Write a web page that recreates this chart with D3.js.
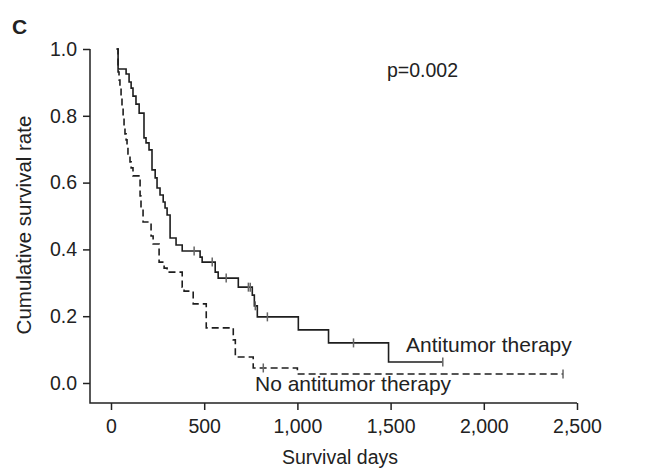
<!DOCTYPE html>
<html>
  <head>
    <script src="https://d3js.org/d3.v7.min.js"></script>
    <style>
      body { margin: 0; background: #fff; }
      text { font-family: "Liberation Sans", Arial, sans-serif; fill: #222; }
    </style>
  </head>
  <body>
    <div id='container'></div>

    <script type="text/javascript">
      // Tick values
      var xTicks = [0, 500, 1000, 1500, 2000, 2500];
      var yTicks = [0, 0.2, 0.4, 0.6, 0.8, 1.0];

      // Antitumor therapy: event days and survival after each drop
      var antiStart = 30;
      var antiDays = [38, 81, 97, 108, 118, 134, 151, 177, 188, 204, 220, 237, 247, 263, 280, 290,
                      301, 317, 349, 382, 478, 489, 559, 575, 683, 758, 769, 785, 1005, 1167, 1489];
      var antiSurv = [0.940, 0.925, 0.901, 0.883, 0.859, 0.835, 0.808, 0.734, 0.719, 0.698, 0.638,
                      0.614, 0.584, 0.563, 0.542, 0.524, 0.503, 0.434, 0.413, 0.395, 0.377, 0.362,
                      0.332, 0.314, 0.287, 0.263, 0.231, 0.198, 0.159, 0.120, 0.063];
      var antiCensor = [446, 543, 618, 737, 747, 774, 839, 1301, 1780];

      // No antitumor therapy
      var noStart = 30;
      var noDays = [38, 43, 48, 54, 59, 65, 70, 75, 81, 86, 91, 102, 108, 118, 156, 161, 172, 215,
                    226, 258, 285, 301, 382, 392, 441, 511, 656, 667, 763, 1000];
      var noSurv = [0.931, 0.907, 0.883, 0.859, 0.823, 0.793, 0.769, 0.746, 0.728, 0.710, 0.686,
                    0.662, 0.644, 0.620, 0.560, 0.524, 0.482, 0.440, 0.416, 0.362, 0.344, 0.332,
                    0.287, 0.275, 0.237, 0.165, 0.129, 0.078, 0.045, 0.027];
      var noCensor = [817, 2425];

      var width = 655,
          height = 468;
      var svg = d3.select("#container").append("svg")
        .attr("width", width)
        .attr("height", height);

      var x = d3.scaleLinear().domain([0, 2500]).range([111, 577]);
      var y = d3.scaleLinear().domain([0, 1]).range([383, 49]);
      var axisLeftX = 90, axisBottomY = 403;
      var fs = 19.5,   // tick labels
          fsLabel = 21; // annotations

      // Axis lines (they meet in a corner below/left of the data origin)
      svg.append("path")
        .attr("d", "M" + axisLeftX + "," + y(1) + "V" + axisBottomY + "H" + x(2500))
        .attr("fill", "none")
        .attr("stroke", "#222")
        .attr("stroke-width", 1.5);

      var yAxis = svg.append("g")
        .attr("transform", "translate(" + axisLeftX + ",0)")
        .call(d3.axisLeft(y).tickValues(yTicks).tickFormat(d3.format(".1f"))
          .tickSize(7).tickSizeOuter(0).tickPadding(6));
      var xAxis = svg.append("g")
        .attr("transform", "translate(0," + axisBottomY + ")")
        .call(d3.axisBottom(x).tickValues(xTicks).tickFormat(d3.format(","))
          .tickSize(7).tickSizeOuter(0).tickPadding(9));

      [yAxis, xAxis].forEach(function(g) {
        g.select(".domain").remove();
        g.selectAll(".tick line").attr("stroke", "#222").attr("stroke-width", 1.5);
        g.selectAll(".tick text")
          .attr("fill", "#222")
          .style("font-size", fs + "px")
          .style("font-family", "'Liberation Sans', Arial, sans-serif");
      });

      // Step curves
      function stepPoints(start, days, surv, censor) {
        var pts = [[start, 1]];
        days.forEach(function(d, i) { pts.push([d, surv[i]]); });
        pts.push([d3.max(censor), surv[surv.length - 1]]);
        return pts;
      }
      function survAt(days, surv, t) {
        var s = 1;
        days.forEach(function(d, i) { if (d <= t) s = surv[i]; });
        return s;
      }

      var line = d3.line()
        .x(function(d) { return x(d[0]); })
        .y(function(d) { return y(d[1]); })
        .curve(d3.curveStepAfter);

      var groups = [
        { start: antiStart, days: antiDays, surv: antiSurv, censor: antiCensor, dash: null },
        { start: noStart, days: noDays, surv: noSurv, censor: noCensor, dash: "7,4" }
      ];

      groups.forEach(function(grp) {
        svg.append("path")
          .attr("d", line(stepPoints(grp.start, grp.days, grp.surv, grp.censor)))
          .attr("fill", "none")
          .attr("stroke", "#1e1e1e")
          .attr("stroke-width", 1.6)
          .attr("stroke-dasharray", grp.dash);

        // censor marks
        svg.selectAll(null)
          .data(grp.censor)
          .enter().append("line")
            .attr("x1", function(d) { return x(d); })
            .attr("x2", function(d) { return x(d); })
            .attr("y1", function(d) { return y(survAt(grp.days, grp.surv, d)) - 4.5; })
            .attr("y2", function(d) { return y(survAt(grp.days, grp.surv, d)) + 4.5; })
            .attr("stroke", "#666")
            .attr("stroke-width", 1.5);
      });

      // Labels
      svg.append("text").attr("x", 12).attr("y", 34)
        .style("font-size", "21px").style("font-weight", "bold").text("C");

      svg.append("text")
        .attr("transform", "translate(31,225) rotate(-90)")
        .attr("text-anchor", "middle")
        .style("font-size", "20.5px")
        .text("Cumulative survival rate");

      svg.append("text").attr("x", 340).attr("y", 464)
        .attr("text-anchor", "middle")
        .style("font-size", fs + "px")
        .text("Survival days");

      svg.append("text").attr("x", 387).attr("y", 77)
        .style("font-size", fs + "px").text("p=0.002");

      svg.append("text").attr("x", 406).attr("y", 352)
        .style("font-size", fsLabel + "px").text("Antitumor therapy");

      svg.append("text").attr("x", 255).attr("y", 391)
        .style("font-size", fsLabel + "px").text("No antitumor therapy");
    </script>
  </body>
</html>
